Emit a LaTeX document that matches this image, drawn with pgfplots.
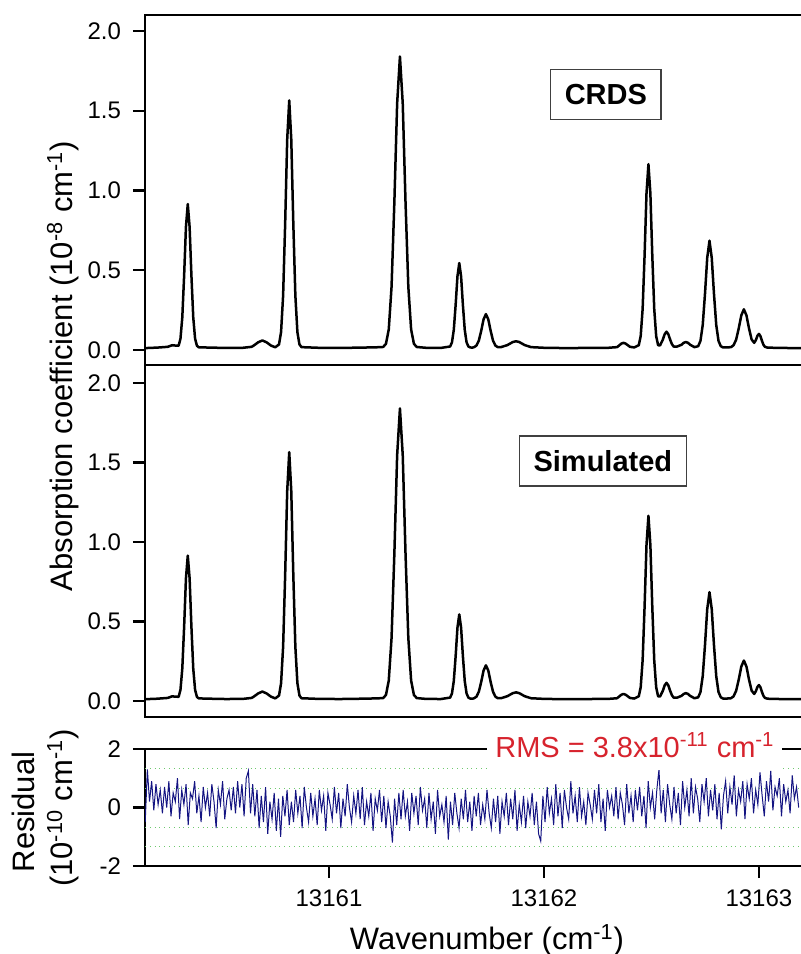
\documentclass[border=0pt]{standalone}
\usepackage{fontspec}
\setmainfont{Liberation Sans}
\usepackage{pgfplots}
\pgfplotsset{compat=1.18}
\usepackage{pgfplotstable}

\definecolor{resblue}{RGB}{20,20,130}
\definecolor{gridgreen}{RGB}{110,200,110}
\definecolor{rmsred}{RGB}{215,35,45}

% x = wavenumber - 13160 (cm^-1), y = absorption coefficient (1e-8 cm^-1)
\pgfplotstableread{
x y
0.145 0.012
0.20 0.015
0.25 0.020
0.27 0.030
0.285 0.028
0.3005 0.027
0.309 0.071
0.3175 0.204
0.326 0.465
0.3345 0.772
0.343 0.915
0.3515 0.772
0.360 0.465
0.3685 0.204
0.377 0.071
0.3855 0.027
0.394 0.017
0.45 0.015
0.52 0.013
0.60 0.014
0.64 0.020
0.65 0.028
0.67 0.048
0.69 0.060
0.71 0.048
0.73 0.028
0.75 0.017
0.7675 0.035
0.777 0.112
0.7865 0.341
0.796 0.790
0.8055 1.319
0.815 1.565
0.8245 1.319
0.834 0.790
0.8435 0.341
0.853 0.112
0.8625 0.035
0.872 0.018
0.95 0.014
1.05 0.013
1.15 0.015
1.22 0.017
1.252 0.019
1.265 0.039
1.278 0.129
1.291 0.397
1.304 0.925
1.317 1.546
1.330 1.840
1.343 1.546
1.356 0.925
1.369 0.397
1.382 0.129
1.395 0.039
1.408 0.019
1.45 0.014
1.52 0.013
1.5635 0.022
1.572 0.048
1.5805 0.126
1.589 0.280
1.5975 0.461
1.606 0.545
1.6145 0.461
1.623 0.280
1.6315 0.126
1.640 0.048
1.6485 0.022
1.657 0.016
1.667 0.015
1.675 0.018
1.686 0.028
1.697 0.059
1.708 0.120
1.719 0.192
1.730 0.225
1.741 0.192
1.752 0.120
1.763 0.059
1.774 0.028
1.785 0.018
1.80 0.018
1.83 0.031
1.855 0.050
1.87 0.055
1.885 0.050
1.91 0.031
1.94 0.018
2.00 0.014
2.10 0.012
2.20 0.013
2.30 0.014
2.34 0.018
2.36 0.040
2.37 0.045
2.38 0.040
2.40 0.020
2.42 0.016
2.441 0.030
2.450 0.087
2.459 0.257
2.468 0.590
2.477 0.982
2.486 1.165
2.495 0.982
2.504 0.590
2.513 0.257
2.522 0.087
2.531 0.030
2.540 0.029
2.553 0.065
2.5615 0.099
2.570 0.115
2.5785 0.099
2.587 0.065
2.5955 0.036
2.604 0.021
2.62 0.022
2.64 0.033
2.65 0.045
2.66 0.050
2.67 0.045
2.68 0.033
2.70 0.018
2.7175 0.024
2.728 0.057
2.7385 0.156
2.749 0.350
2.7595 0.578
2.770 0.685
2.7805 0.578
2.791 0.350
2.8015 0.156
2.812 0.057
2.8225 0.024
2.833 0.016
2.85 0.016
2.87 0.018
2.882 0.030
2.894 0.065
2.906 0.135
2.918 0.217
2.930 0.255
2.942 0.217
2.954 0.135
2.966 0.066
2.978 0.045
2.986 0.063
2.993 0.089
3.000 0.101
3.007 0.087
3.014 0.058
3.021 0.033
3.028 0.020
3.04 0.015
3.10 0.013
3.18 0.012
3.25 0.013
3.33 0.012
}\spectrum

% residual (1e-10 cm^-1), x = 0.145 + 0.01*index
\pgfplotstableread{
r
-0.5
1.3
0.2
0.9
-0.1
0.8
0.1
0.6
-0.2
0.7
0.0
0.9
-0.3
0.5
0.2
1.0
-0.4
0.6
0.1
0.8
-0.6
0.5
0.3
0.9
-0.2
0.4
-0.5
0.7
0.0
0.5
-0.3
0.8
0.2
-0.7
0.6
0.1
0.9
-0.4
0.3
0.6
-0.1
0.7
-0.2
0.9
0.0
0.8
-0.3
1.0
1.25
-0.2
0.8
-0.3
0.6
-0.7
0.4
-0.5
0.7
-0.9
0.2
-0.4
0.5
-0.8
0.3
-1.0
0.4
-0.3
0.6
-0.6
0.2
-0.5
0.6
-0.2
0.4
-0.7
0.7
0.0
-0.5
0.5
-0.3
0.3
-0.6
0.6
-0.1
0.4
-0.8
0.5
0.1
-0.4
0.7
-0.2
0.5
-0.7
0.3
-0.3
0.8
0.0
-0.5
0.4
-0.2
0.6
-0.4
0.7
-0.6
0.2
-0.3
0.5
-0.8
0.3
-0.1
0.6
-0.5
0.4
-0.7
0.2
-0.3
-1.2
0.3
-0.6
0.5
-0.4
0.6
-0.3
0.2
-0.8
0.5
-0.2
0.4
-0.6
0.7
-0.1
0.3
-0.7
0.5
-0.4
0.2
-0.9
0.6
-0.3
0.1
-0.5
0.4
-1.1
0.2
-0.6
0.5
-0.2
-0.7
0.3
-0.4
0.6
-0.5
0.2
-0.8
0.4
-0.3
0.5
-0.6
0.1
-0.4
0.6
-0.2
-0.7
0.3
-0.5
0.4
-0.9
0.2
-0.3
0.5
-0.6
0.3
-0.4
0.6
-0.8
0.1
-0.5
0.4
-0.7
0.2
-0.3
0.5
-0.6
0.2
-0.9
-1.15
0.4
-0.5
0.7
-0.2
0.3
-0.6
0.8
-0.3
0.5
-0.7
0.6
0.0
-0.4
0.9
-0.2
0.4
-0.5
0.7
-0.3
0.2
-0.6
0.5
0.1
-0.4
0.6
-0.2
0.8
-0.5
0.3
-0.8
0.6
0.0
0.4
-0.3
0.7
-0.4
0.5
0.1
-0.6
0.8
-0.2
0.4
-0.5
0.6
-0.1
0.7
-0.3
0.4
-0.7
0.9
0.0
0.5
-0.4
0.6
1.3
-0.2
0.6
-0.5
0.8
0.1
-0.4
0.7
-0.2
0.5
-0.6
0.9
0.0
0.6
-0.3
1.0
-0.2
0.7
0.3
-0.5
0.8
0.2
1.0
-0.3
0.6
-0.1
0.8
-0.4
0.5
-0.75
0.4
0.9
-0.2
0.7
0.1
1.1
-0.3
0.6
0.2
0.9
-0.4
0.8
0.3
1.0
-0.2
0.6
0.1
1.2
0.4
-0.3
0.9
0.2
1.25
-0.1
0.7
0.4
1.0
-0.3
0.8
0.2
0.6
-0.2
1.1
0.3
0.7
0.0
}\residual

\pgfplotsset{
  myaxis/.style={
    scale only axis,
    width=342pt,
    xmin=0.144, xmax=3.326,
    axis line style={line width=1.1pt},
    tick style={line width=1.1pt, black},
    tick align=outside,
    major tick length=6pt,
    ytick pos=left,
    tick label style={font=\fontsize{12}{14}\selectfont},
    yticklabel style={xshift=-2.5pt},
    xticklabel style={yshift=-2.5pt},
    /pgf/number format/assume math mode=true,
  },
  specaxis/.style={
    myaxis,
    xtick=\empty,
    ytick={0,0.5,1,1.5,2},
    yticklabel style={/pgf/number format/.cd, fixed, fixed zerofill, precision=1},
  },
}

\begin{document}
\begin{tikzpicture}
% ---------- CRDS ----------
\begin{axis}[specaxis, at={(72.5pt,-7.5pt)}, anchor=north west,
  height=175pt, ymin=-0.094, ymax=2.10]
  \addplot[black, line width=1.25pt, line join=round] table[x=x, y=y] {\spectrum};
  \node[draw=black!75, line width=0.6pt, inner xsep=7pt, minimum height=25pt,
        font=\bfseries\fontsize{14.5}{16}\selectfont] at (axis cs:2.288,1.60) {CRDS};
\end{axis}
% ---------- Simulated ----------
\begin{axis}[specaxis, at={(72.5pt,-182.5pt)}, anchor=north west,
  height=176pt, ymin=-0.10, ymax=2.113]
  \addplot[black, line width=1.25pt, line join=round] table[x=x, y=y] {\spectrum};
  \node[draw=black!75, line width=0.6pt, inner xsep=7pt, minimum height=25pt,
        font=\bfseries\fontsize{14.5}{16}\selectfont] at (axis cs:2.274,1.51) {Simulated};
\end{axis}
% ---------- Residual ----------
\begin{axis}[myaxis, at={(72.5pt,-374.5pt)}, anchor=north west,
  height=58.5pt, ymin=-2, ymax=2,
  ytick={-2,0,2},
  xtick={1,2,3}, xticklabels={13161,13162,13163},
  xtick pos=bottom,
  extra y ticks={-1.333,-0.667,0.667,1.333},
  extra y tick labels={},
  extra y tick style={ymajorgrids=true, major tick length=0pt},
  major grid style={gridgreen, dotted, line width=0.5pt},
  ]
  \addplot[resblue, line width=0.5pt] table[x expr=0.145+0.01*\coordindex, y=r] {\residual};
  \coordinate (rms) at (axis cs:2.423,2);
\end{axis}

\node[fill=white, text=rmsred, anchor=base, yshift=-4pt, inner xsep=4pt, inner ysep=4pt,
      text depth=2.5pt, font=\fontsize{14.5}{16}\selectfont]
  at (rms) {RMS = 3.8x10\textsuperscript{-11} cm\textsuperscript{-1}};

% axis labels
\node[rotate=90, font=\fontsize{15.5}{17}\selectfont] at (31.5pt,-183pt)
  {Absorption coefficient (10\textsuperscript{-8} cm\textsuperscript{-1})};
\node[rotate=90, font=\fontsize{15.5}{17}\selectfont] at (11.5pt,-406pt) {Residual};
\node[rotate=90, font=\fontsize{15.5}{17}\selectfont] at (31.5pt,-404pt)
  {(10\textsuperscript{-10} cm\textsuperscript{-1})};
\node[font=\fontsize{15.5}{17}\selectfont] at (243.5pt,-470pt)
  {Wavenumber (cm\textsuperscript{-1})};

\pgfresetboundingbox
\path[use as bounding box] (0pt,0pt) rectangle (400pt,-477pt);
\end{tikzpicture}
\end{document}
